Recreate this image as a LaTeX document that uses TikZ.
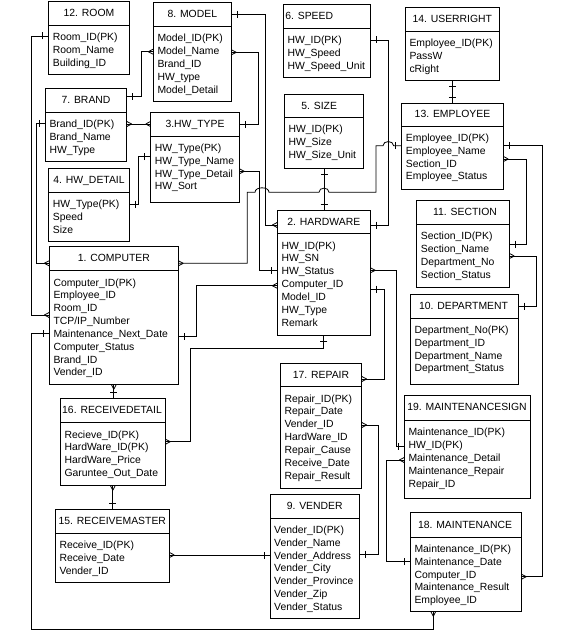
\documentclass[tikz,border=0pt]{standalone}
\usepackage{fontspec}
\setmainfont{Liberation Sans}
\usetikzlibrary{fit,arrows.meta}

\pgfdeclarearrow{
  name = erone,
  setup code = {
    \pgfarrowssettipend{0pt}
    \pgfarrowssetlineend{0pt}
    \pgfarrowssetbackend{-7pt}
    \pgfarrowssetvisualbackend{0pt}
    \pgfarrowsupperhullpoint{0pt}{3.5pt}
    \pgfarrowsupperhullpoint{-7pt}{3.5pt}
  },
  drawing code = {
    \pgfpathmoveto{\pgfqpoint{-6pt}{-3.5pt}}
    \pgfpathlineto{\pgfqpoint{-6pt}{3.5pt}}
    \pgfusepathqstroke
  }
}
\pgfdeclarearrow{
  name = ermany,
  setup code = {
    \pgfarrowssettipend{0pt}
    \pgfarrowssetlineend{0pt}
    \pgfarrowssetbackend{-5pt}
    \pgfarrowssetvisualbackend{0pt}
    \pgfarrowsupperhullpoint{0pt}{2.6pt}
    \pgfarrowsupperhullpoint{-5pt}{2.6pt}
  },
  drawing code = {
    \pgfpathmoveto{\pgfqpoint{-5pt}{0pt}}
    \pgfpathlineto{\pgfqpoint{0pt}{2.6pt}}
    \pgfpathmoveto{\pgfqpoint{-5pt}{0pt}}
    \pgfpathlineto{\pgfqpoint{0pt}{-2.6pt}}
    \pgfusepathqstroke
  }
}

\newcommand{\erfont}{\fontsize{10.4}{12.85}\selectfont}
\tikzset{
  box/.style={draw, line width=0.8pt, inner sep=0pt, outer sep=0pt},
  hline/.style={line width=0.8pt},
  ttl/.style={anchor=base, inner sep=0pt, font=\erfont},
  rowtxt/.style={anchor=base west, inner sep=0pt, font=\erfont},
  rel/.style={line width=0.8pt},
}
% name, x1, y1, x2, y2, header y, title centre x, title, rows
\newcommand{\ent}[9]{%
  \node[box, fit={(#2,#3) (#4,#5)}] (#1) {};
  \draw[hline] (#2,#6) -- (#4,#6);
  \pgfmathsetmacro\entTY{(#3+#6)/2+3.3}
  \node[ttl] (#1-t) at (#7,\entTY) {#8};
  \pgfmathsetmacro\entRX{#2+4}
  \foreach \rowtext [count=\i] in {#9} {
    \pgfmathsetmacro\entRY{#6+15.3+(\i-1)*12.85}
    \node[rowtxt] (#1-\i) at (\entRX,\entRY) {\rowtext};
  }
}

\begin{document}
\begin{tikzpicture}[x=1pt,y=-1pt]
\fill[white] (0,0) rectangle (563,634);
\useasboundingbox (0,0) rectangle (563,634);

\ent{room}{48.7}{1.7}{129.3}{74}{25.3}{89}{12. ROOM}{Room\_ID(PK),Room\_Name,Building\_ID}
\ent{model}{153.3}{2.7}{231.3}{101}{26.3}{192.3}{8. MODEL}{Model\_ID(PK),Model\_Name,Brand\_ID,HW\_type,Model\_Detail}
\ent{speed}{283.3}{4.3}{370.3}{77.3}{28.3}{309.2}{6. SPEED}{HW\_ID(PK),HW\_Speed,HW\_Speed\_Unit}
\ent{size}{284.3}{94.3}{363.7}{168.3}{117.3}{319.2}{5. SIZE}{HW\_ID(PK),HW\_Size,HW\_Size\_Unit}
\ent{userright}{405.3}{7.3}{499.3}{80.3}{31.7}{452.3}{14. USERRIGHT}{Employee\_ID(PK),PassW,cRight}
\ent{brand}{45.3}{88.3}{126.7}{161}{112}{86}{7. BRAND}{Brand\_ID(PK),Brand\_Name,HW\_Type}
\ent{hwtype}{150.7}{112.7}{239.3}{202}{136}{195}{3.HW\_TYPE}{HW\_Type(PK),HW\_Type\_Name,HW\_Type\_Detail,HW\_Sort}
\ent{hwdetail}{48.7}{168.3}{129.3}{241}{192}{89}{4. HW\_DETAIL}{HW\_Type(PK),Speed,Size}
\ent{employee}{401.7}{103.3}{503.3}{189}{126}{452.5}{13. EMPLOYEE}{Employee\_ID(PK),Employee\_Name,Section\_ID,Employee\_Status}
\ent{hardware}{277.3}{210.3}{370.3}{335.3}{233.7}{323.8}{2. HARDWARE}{HW\_ID(PK),HW\_SN,HW\_Status,Computer\_ID,Model\_ID,HW\_Type,Remark}
\ent{section}{416.7}{200.3}{509.3}{287}{224.3}{465}{11. SECTION}{Section\_ID(PK),Section\_Name,Department\_No,Section\_Status}
\ent{department}{410.3}{294.3}{518.3}{384}{318}{463.5}{10. DEPARTMENT}{Department\_No(PK),Department\_ID,Department\_Name,Department\_Status}
\ent{computer}{49.3}{246}{178.3}{384.3}{270.7}{113.8}{1. COMPUTER}{Computer\_ID(PK),Employee\_ID,Room\_ID,TCP/IP\_Number,Maintenance\_Next\_Date,Computer\_Status,Brand\_ID,Vender\_ID}
\ent{repair}{280.3}{363.3}{361.7}{488.3}{386.7}{321}{17. REPAIR}{Repair\_ID(PK),Repair\_Date,Vender\_ID,HardWare\_ID,Repair\_Cause,Receive\_Date,Repair\_Result}
\ent{receivedetail}{60.3}{398.3}{165.3}{485.3}{422.7}{112}{16. RECEIVEDETAIL}{Recieve\_ID(PK),HardWare\_ID(PK),HardWare\_Price,Garuntee\_Out\_Date}
\ent{vender}{270}{494.3}{359.3}{618.3}{518}{314.7}{9. VENDER}{Vender\_ID(PK),Vender\_Name,Vender\_Address,Vender\_City,Vender\_Province,Vender\_Zip,Vender\_Status}
\ent{maintsign}{404.3}{395}{530.3}{498.3}{420.3}{467}{19. MAINTENANCESIGN}{Maintenance\_ID(PK),HW\_ID(PK),Maintenance\_Detail,Maintenance\_Repair,Repair\_ID}
\ent{receivemaster}{55.3}{509.3}{169.3}{582}{533.3}{112.3}{15. RECEIVEMASTER}{Receive\_ID(PK),Receive\_Date,Vender\_ID}
\ent{maintenance}{410.3}{512.7}{521.3}{611.3}{537}{465}{18. MAINTENANCE}{Maintenance\_ID(PK),Maintenance\_Date,Computer\_ID,Maintenance\_Result,Employee\_ID}

% connectors
\draw[rel, erone-ermany] (room.west |- 0,36) -| (31.7,315) -- (computer.west |- 0,315);
\draw[rel, erone-ermany] (brand.east |- 0,96.7) -| (141.7,51.7) -- (model.west |- 0,51.7);
\draw[rel, ermany-ermany] (brand.east |- 0,124) -- (hwtype.west |- 0,124);
\draw[rel, ermany-erone] (model.east |- 0,52.3) -| (258.3,124.3) -- (hwtype.east |- 0,124.3);
\draw[rel, erone-erone] (hwdetail.east |- 0,204) -| (138.3,156.7) -- (hwtype.west |- 0,156.7);
\draw[rel, erone-ermany] (model.east |- 0,14.3) -| (265,225) -- (hardware.west |- 0,225);
\draw[rel, ermany-erone] (hwtype.east |- 0,171.3) -| (259.5,270) -- (hardware.west |- 0,270);
\draw[rel, erone-erone] (speed.east |- 0,40) -| (388.3,225) -- (hardware.east |- 0,225);
\draw[rel, erone-erone] (size.south) -- (size.south |- hardware.north);
\draw[rel, erone-erone] (userright.south) -- (userright.south |- employee.north);
\draw[rel, erone-ermany] (employee.west |- 0,145.7) -- (393.6,145.7)
  .. controls (393.6,140.2) and (383,140.2) .. (383,145.7) -- (376,145.7) -- (376,192.3)
  -- (329,192.3) .. controls (329,186.8) and (319,186.8) .. (319,192.3)
  -- (269,192.3) .. controls (269,186.3) and (255,186.3) .. (255,192.3)
  -- (247.3,192.3) |- (computer.east |- 0,263.3);
\draw[rel, erone-ermany] (employee.east |- 0,145.7) -| (542.7,576.7) -- (maintenance.east |- 0,576.7);
\draw[rel, ermany-erone] (employee.east |- 0,159) -| (526.7,244) -- (section.east |- 0,244);
\draw[rel, ermany-erone] (section.east |- 0,256) -| (536,306) -- (department.east |- 0,306);
\draw[rel, ermany-erone] (hardware.east |- 0,270.3) -| (396.7,446.3) -- (maintsign.west |- 0,446.3);
\draw[rel, erone-ermany] (hardware.east |- 0,289) -| (384.3,379) -- (repair.east |- 0,379);
\draw[rel, erone-ermany] (hardware.south) -- (hardware.south |- 0,348.3) -| (190.7,441.7) -- (receivedetail.east |- 0,441.7);
\draw[rel, erone-ermany] (computer.east |- 0,336.7) -| (196.7,285.7) -- (hardware.west |- 0,285.7);
\draw[rel, erone-ermany] (brand.west |- 0,123.3) -| (36,263.3) -- (computer.west |- 0,263.3);
\draw[rel, erone-ermany] (computer.west |- 0,333.3) -| (31,629) -| (maintenance.south -| 433.3,0);
\draw[rel, ermany-erone] (computer.south) -- (computer.south |- receivedetail.north);
\draw[rel, ermany-erone] (receivedetail.south) -- (receivedetail.south |- receivemaster.north);
\draw[rel, ermany-erone] (receivemaster.east |- 0,555) -- (vender.west |- 0,555);
\draw[rel, ermany-erone] (repair.east |- 0,425) -| (378.3,554) -- (vender.east |- 0,554);
\draw[rel, ermany-erone] (maintsign.west |- 0,460) -| (386.7,561.7) -- (maintenance.west |- 0,561.7);
\end{tikzpicture}
\end{document}
